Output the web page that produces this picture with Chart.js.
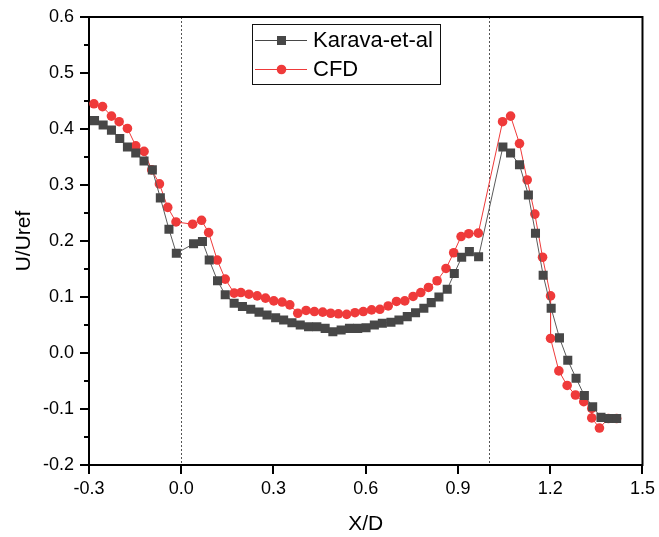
<!DOCTYPE html>
<html>
<head>
<meta charset="utf-8">
<script src="https://cdn.jsdelivr.net/npm/chart.js@4/dist/chart.umd.min.js"></script>
<style>
  html, body { margin: 0; padding: 0; background: #fff; }
  #wrap { width: 659px; height: 537px; }
</style>
</head>
<body>
<div id="wrap"><canvas id="myChart" width="659" height="537"></canvas></div>
<script>
"use strict";

// Karava et al. (experiment)
let karavaX = [-0.282,-0.254,-0.227,-0.200,-0.175,-0.148,-0.121,-0.094,-0.068,-0.040,-0.016,
    0.040,0.069,0.091,0.118,0.143,0.172,0.199,0.226,0.253,0.279,0.307,0.333,0.360,0.387,0.414,
    0.441,0.468,0.493,0.520,0.547,0.574,0.601,0.628,0.654,0.682,0.708,0.735,0.762,0.789,0.813,
    0.838,0.865,0.888,0.912,0.937,0.967,1.046,1.071,1.100,1.129,1.152,1.177,1.203,1.230,1.257,
    1.284,1.311,1.338,1.365,1.391,1.416];
let karavaY = [0.415,0.407,0.398,0.383,0.368,0.357,0.343,0.327,0.277,0.221,0.178,
    0.195,0.199,0.166,0.129,0.104,0.089,0.083,0.078,0.073,0.068,0.063,0.059,0.054,0.050,0.047,
    0.047,0.044,0.038,0.041,0.044,0.044,0.045,0.050,0.053,0.055,0.059,0.065,0.072,0.080,0.090,
    0.100,0.114,0.142,0.171,0.181,0.172,0.368,0.357,0.336,0.282,0.214,0.139,0.080,0.027,-0.013,
    -0.045,-0.076,-0.096,-0.115,-0.117,-0.117];

// CFD
let cfdX = [-0.284,-0.256,-0.227,-0.202,-0.175,-0.148,-0.121,-0.096,-0.071,-0.044,-0.017,
    0.037,0.066,0.089,0.117,0.143,0.172,0.194,0.220,0.247,0.274,0.301,0.328,0.353,0.379,0.406,
    0.433,0.460,0.486,0.511,0.538,0.565,0.592,0.619,0.646,0.673,0.700,0.727,0.754,0.779,0.804,
    0.832,0.861,0.886,0.910,0.935,0.966,1.045,1.071,1.100,1.125,1.150,1.175,1.201,1.201,1.228,
    1.255,1.282,1.309,1.335,1.335,1.360,1.389,1.416];
let cfdY = [0.445,0.440,0.423,0.413,0.401,0.370,0.360,0.327,0.302,0.260,0.234,
    0.230,0.237,0.215,0.166,0.132,0.107,0.108,0.105,0.102,0.098,0.093,0.091,0.086,0.071,0.076,
    0.074,0.073,0.071,0.070,0.069,0.072,0.074,0.077,0.078,0.084,0.092,0.093,0.101,0.108,0.117,
    0.129,0.151,0.179,0.208,0.213,0.214,0.413,0.423,0.374,0.309,0.248,0.171,0.102,0.026,-0.032,
    -0.058,-0.075,-0.087,-0.099,-0.116,-0.134,-0.117,-0.117];

let refLines = [0.0, 1.0];
let yMinor = [-0.15,-0.05,0.05,0.15,0.25,0.35,0.45,0.55];

let FONT = "'Liberation Sans', Arial, sans-serif";
let BLACK_C = "#474747";
let RED_C = "#ef3a3a";

function pairs(xs, ys) {
    let out = [];
    for (let i = 0; i < xs.length; i++) out.push({x: xs[i], y: ys[i]});
    return out;
}

function fmt(v) {
    if (Math.abs(v) < 1e-9) v = 0;
    return v.toFixed(1);
}

// dotted reference lines, frame, minor ticks and boxed legend
let decor = {
    id: "decor",
    beforeDatasetsDraw(chart) {
        let ctx = chart.ctx, a = chart.chartArea, xs = chart.scales.x;
        ctx.save();
        ctx.strokeStyle = "#555";
        ctx.lineWidth = 1;
        ctx.setLineDash([2, 2]);
        for (let v of refLines) {
            let px = Math.round(xs.getPixelForValue(v)) + 0.5;
            ctx.beginPath();
            ctx.moveTo(px, a.top);
            ctx.lineTo(px, a.bottom);
            ctx.stroke();
        }
        ctx.restore();
    },
    afterDraw(chart) {
        let ctx = chart.ctx, a = chart.chartArea, ys = chart.scales.y;
        ctx.save();
        ctx.strokeStyle = "#000";
        ctx.lineWidth = 2;
        ctx.beginPath();
        ctx.moveTo(a.left - 1, a.top);
        ctx.lineTo(a.right, a.top);
        ctx.lineTo(a.right, a.bottom + 1);
        ctx.stroke();

        for (let v of yMinor) {
            let py = ys.getPixelForValue(v);
            ctx.beginPath();
            ctx.moveTo(a.left - 5, py);
            ctx.lineTo(a.left, py);
            ctx.stroke();
        }

        // legend
        ctx.lineWidth = 1;
        ctx.strokeStyle = "#111";
        ctx.strokeRect(252.5, 24.5, 188, 60);
        ctx.font = "22px " + FONT;
        ctx.textBaseline = "middle";
        ctx.textAlign = "left";

        ctx.strokeStyle = BLACK_C;
        ctx.beginPath();
        ctx.moveTo(255, 40.5);
        ctx.lineTo(307, 40.5);
        ctx.stroke();
        ctx.fillStyle = BLACK_C;
        ctx.fillRect(277, 36, 9, 9);
        ctx.fillStyle = "#000";
        ctx.fillText("Karava-et-al", 313, 41);

        ctx.strokeStyle = RED_C;
        ctx.beginPath();
        ctx.moveTo(255, 69.5);
        ctx.lineTo(307, 69.5);
        ctx.stroke();
        ctx.fillStyle = RED_C;
        ctx.beginPath();
        ctx.arc(281.5, 69.5, 4.8, 0, Math.PI * 2);
        ctx.fill();
        ctx.fillStyle = "#000";
        ctx.fillText("CFD", 313, 70);
        ctx.restore();
    }
};

let newChart = new Chart(document.getElementById("myChart"), {
    type: "scatter",
    data: {
        datasets: [
            {
                label: "Karava-et-al",
                data: pairs(karavaX, karavaY),
                showLine: true,
                borderColor: "#5a5a5a",
                borderWidth: 1,
                backgroundColor: BLACK_C,
                pointStyle: "rect",
                pointRadius: 6.4,
                pointBorderWidth: 0,
                pointBackgroundColor: BLACK_C
            },
            {
                label: "CFD",
                data: pairs(cfdX, cfdY),
                showLine: true,
                borderColor: RED_C,
                borderWidth: 1,
                backgroundColor: RED_C,
                pointStyle: "circle",
                pointRadius: 4.8,
                pointBorderWidth: 0,
                pointBackgroundColor: RED_C
            }
        ]
    },
    options: {
        responsive: false,
        animation: false,
        layout: { padding: { left: 0, right: 13, top: 17, bottom: 0 } },
        plugins: { legend: { display: false }, tooltip: { enabled: false } },
        scales: {
            x: {
                type: "linear",
                min: -0.3,
                max: 1.5,
                afterFit: function (s) { s.height = 72; },
                ticks: {
                    stepSize: 0.3,
                    callback: fmt,
                    color: "#000",
                    font: { family: FONT, size: 18 },
                    padding: 4,
                    maxRotation: 0
                },
                grid: { drawOnChartArea: false, tickLength: 9, color: "#000", lineWidth: 2 },
                border: { display: true, color: "#000", width: 2 },
                title: {
                    display: true,
                    text: "X/D",
                    color: "#000",
                    font: { family: FONT, size: 21 },
                    padding: { top: 5, bottom: 0 }
                }
            },
            y: {
                min: -0.2,
                max: 0.6,
                afterFit: function (s) { s.width = 89; },
                ticks: {
                    stepSize: 0.1,
                    callback: fmt,
                    color: "#000",
                    font: { family: FONT, size: 18 },
                    padding: 6
                },
                grid: { drawOnChartArea: false, tickLength: 9, color: "#000", lineWidth: 2 },
                border: { display: true, color: "#000", width: 2 },
                title: {
                    display: true,
                    text: "U/Uref",
                    color: "#000",
                    font: { family: FONT, size: 21 },
                    padding: { top: 12, bottom: 0 }
                }
            }
        }
    },
    plugins: [decor]
});
</script>
</body>
</html>
